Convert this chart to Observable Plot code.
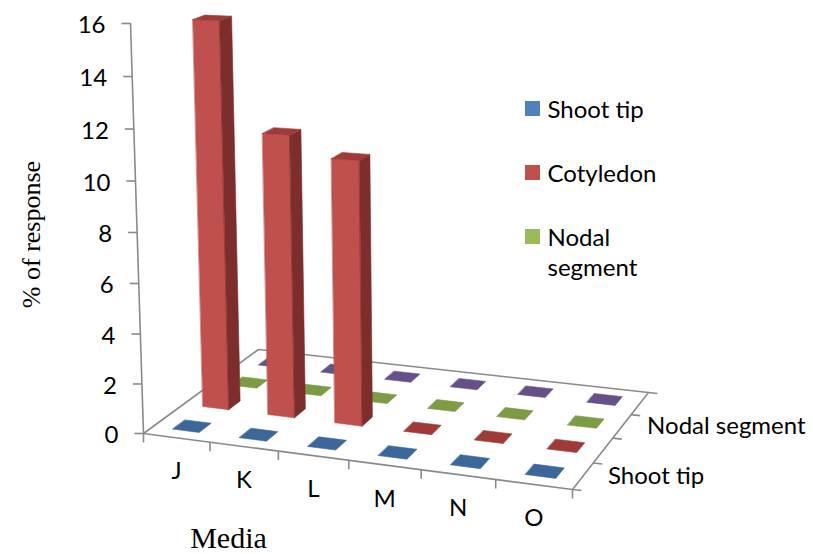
<!DOCTYPE html>
<html>
<head>
<meta charset="utf-8">
<script src="https://cdn.jsdelivr.net/npm/d3@7"></script>
<script src="https://cdn.jsdelivr.net/npm/@observablehq/plot@0.6"></script>
<style>
  body { margin: 0; background: #ffffff; }
  #chart svg { display: block; }
</style>
</head>
<body>
<div id="chart"></div>
<script>
// ---------------- data ----------------
const categories = ["J", "K", "L", "M", "N", "O"];
const seriesNames = ["Shoot tip", "Cotyledon", "Nodal segment", ""];
const shootTip = [0, 0, 0, 0, 0, 0];
const cotyledon = [15.6, 11.3, 10.5, 0, 0, 0];
const nodalSegment = [0, 0, 0, 0, 0, 0];
const series4 = [0, 0, 0, 0, 0, 0];
const yTicks = [0, 2, 4, 6, 8, 10, 12, 14, 16];
const depthLabelRows = [0, 2];            // Excel shows every other series label
const legendSeries = [0, 1, 2];
const yTitle = "% of response";
const xTitle = "Media";

// ---------------- styles ----------------
const frontColors = ["#4F81BD", "#C0504D", "#9BBB59", "#8064A2"];
const sideColors  = ["#2E4D74", "#7D2E2C", "#5E7431", "#4C3B63"];
const topColors   = ["#3D679B", "#9E3B39", "#7D9A45", "#65508A"];
const axisColor = "#8A8A8A";
const sansFont = "Lato, 'Liberation Sans', sans-serif";
const serifFont = "'Liberation Serif', 'DejaVu Serif', serif";
const labelSize = 24;

// ---------------- 3D projection (perspective floor + vertical) ----------------
const W = 813, H = 554;
const values = [shootTip, cotyledon, nodalSegment, series4];
const nCat = categories.length, nSer = seriesNames.length;
// floor corners in view space: front-left, front-right, back-right, back-left
const floor = [[143, 433], [572, 489], [648, 392], [258, 349]];
const vert = {A: -1.123, B: -25.68, C: -0.00239}; // homogeneous column for value axis

function squareToQuad(q) {
  const [[x0, y0], [x1, y1], [x2, y2], [x3, y3]] = q;
  const dx1 = x1 - x2, dx2 = x3 - x2, dx3 = x0 - x1 + x2 - x3;
  const dy1 = y1 - y2, dy2 = y3 - y2, dy3 = y0 - y1 + y2 - y3;
  const den = dx1 * dy2 - dx2 * dy1;
  const g = (dx3 * dy2 - dx2 * dy3) / den;
  const h = (dx1 * dy3 - dx3 * dy1) / den;
  return {
    a: x1 - x0 + g * x1, b: x3 - x0 + h * x3, c: x0,
    d: y1 - y0 + g * y1, e: y3 - y0 + h * y3, f: y0, g, h
  };
}
const M = squareToQuad(floor);
function P(u, w, v) {
  const s = u / nCat, t = w / nSer;
  const X = M.a * s + M.b * t + M.c + v * vert.A;
  const Y = M.d * s + M.e * t + M.f + v * vert.B;
  const Z = M.g * s + M.h * t + 1 + v * vert.C;
  return [X / Z, Y / Z];
}

// ---------------- geometry built from the data ----------------
const barFrac = 0.4;
const polys = [];
let pid = 0;
function addPoly(pts, fill) {
  const id = pid++;
  for (const [x, y] of pts) polys.push({id, x, y, fill});
}
for (let si = nSer - 1; si >= 0; si--) {
  for (let ci = 0; ci < nCat; ci++) {
    const v = values[si][ci];
    const u0 = ci + (1 - barFrac) / 2, u1 = ci + (1 + barFrac) / 2;
    const w0 = si + (1 - barFrac) / 2, w1 = si + (1 + barFrac) / 2;
    if (v > 0) {
      addPoly([P(u0, w0, 0), P(u1, w0, 0), P(u1, w0, v), P(u0, w0, v)], frontColors[si]);
      addPoly([P(u1, w0, 0), P(u1, w1, 0), P(u1, w1, v), P(u1, w0, v)], sideColors[si]);
    }
    addPoly([P(u0, w0, v), P(u1, w0, v), P(u1, w1, v), P(u0, w1, v)], topColors[si]);
  }
}

const floorPts = [P(0, 0, 0), P(nCat, 0, 0), P(nCat, nSer, 0), P(0, nSer, 0)]
  .map(([x, y]) => ({x, y}));
const yAxisPts = [P(0, 0, 0), P(0, 0, d3.max(yTicks))].map(([x, y]) => ({x, y}));
const yTickData = yTicks.map(v => { const [x, y] = P(0, 0, v); return {v, x, y}; });
const catTickData = d3.range(nCat + 1).map(i => { const [x, y] = P(i, 0, 0); return {x, y}; });
const catLabelData = categories.map((c, i) => { const [x, y] = P(i + 0.5, 0, 0); return {c, x, y}; });
const serTickData = d3.range(nSer + 1).map(i => { const [x, y] = P(nCat, i, 0); return {x, y}; });
const serLabelData = depthLabelRows.map(i => { const [x, y] = P(nCat, i + 0.5, 0); return {name: seriesNames[i], x, y}; });

const legend = {x: 525, y: 101, step: 64, size: 15, gap: 7};
const legendData = legendSeries.map((si, k) => ({
  name: seriesNames[si].length > 10 ? seriesNames[si].replace(" ", "\n") : seriesNames[si],
  color: frontColors[si],
  y: legend.y + k * legend.step
}));

const chart = Plot.plot({
  width: W, height: H,
  margin: 0,
  x: {type: "linear", domain: [0, W], range: [0, W], axis: null},
  y: {type: "linear", domain: [0, H], range: [0, H], axis: null},
  color: {type: "identity"},
  style: {fontFamily: sansFont, fontSize: labelSize + "px", color: "#000", background: "#fff"},
  marks: [
    // floor outline
    Plot.line(floorPts, {x: "x", y: "y", curve: "linear-closed", stroke: axisColor, strokeWidth: 1.6}),
    // value axis
    Plot.line(yAxisPts, {x: "x", y: "y", stroke: axisColor, strokeWidth: 1.6}),
    Plot.link(yTickData, {x1: "x", y1: "y", x2: d => d.x - 9, y2: "y", stroke: axisColor, strokeWidth: 1.6}),
    Plot.text(yTickData, {x: "x", y: "y", text: d => String(d.v), textAnchor: "end", dx: -25, dy: 2, fill: "#000", fontSize: labelSize}),
    // category axis ticks
    Plot.link(catTickData, {x1: "x", y1: "y", x2: "x", y2: d => d.y + 9, stroke: axisColor, strokeWidth: 1.6}),
    Plot.text(catLabelData, {x: "x", y: d => d.y + 34, text: "c", textAnchor: "middle", fill: "#000", fontSize: labelSize}),
    // series (depth) axis ticks
    Plot.link(serTickData, {x1: "x", y1: "y", x2: d => d.x + 9, y2: d => d.y + 1, stroke: axisColor, strokeWidth: 1.6}),
    Plot.text(serLabelData, {x: "x", y: "y", text: "name", textAnchor: "start", dx: 25, fill: "#000", fontSize: labelSize}),
    // bars / flat tiles
    Plot.line(polys, {x: "x", y: "y", z: "id", fill: "fill", stroke: "fill", strokeWidth: 0.6, curve: "linear-closed"}),
    // legend
    Plot.rect(legendData, {x1: legend.x, x2: legend.x + legend.size, y1: "y", y2: d => d.y + legend.size, fill: "color"}),
    Plot.text(legendData, {x: legend.x + legend.size + legend.gap, y: d => d.y - 5, text: "name", textAnchor: "start", lineAnchor: "top", lineHeight: 1.25, fill: "#000", fontSize: labelSize}),
    // titles
    Plot.text([yTitle], {x: 31, y: 234, text: d => d, rotate: -90, fontFamily: serifFont, fontSize: 26, fill: "#000"}),
    Plot.text([xTitle], {x: 228, y: 538, text: d => d, fontFamily: serifFont, fontSize: 30, fill: "#000"})
  ]
});
document.getElementById("chart").appendChild(chart);
</script>
</body>
</html>
